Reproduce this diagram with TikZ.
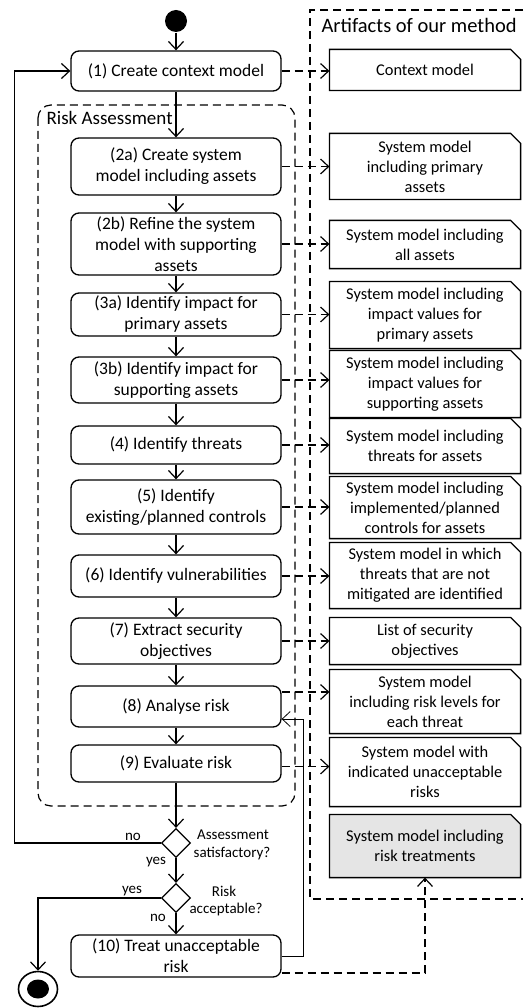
\documentclass[tikz,border=0pt]{standalone}
\usepackage{fontspec}
\setmainfont{Carlito}
\usetikzlibrary{arrows.meta,shapes.geometric,backgrounds,calc}
\newcommand\procfont{\fontsize{17.5pt}{21pt}\selectfont}
\newcommand\artfont{\fontsize{16.4pt}{20pt}\selectfont}
\newcommand\lblfont{\fontsize{15pt}{18pt}\selectfont}
\begin{document}
\begin{tikzpicture}[x=1pt,y=-1pt,
  >={Straight Barb[length=8pt,width=15pt]},
  line width=1.2pt,
  proc/.style={draw, line width=1.3pt, rounded corners=8pt, minimum width=210pt, inner sep=0pt, align=center, font=\procfont},
  art/.style={minimum width=190pt, inner sep=0pt, align=center, font=\artfont},
  flow/.style={->},
  dashline/.style={dash pattern=on 8pt off 5pt},
  dflow/.style={->, dash pattern=on 8pt off 5pt},
  dec/.style={draw, diamond, line width=1.3pt, minimum width=29pt, minimum height=29pt, inner sep=0pt},
  lbl/.style={font=\lblfont, inner sep=0pt},
  notefill/.style={fill=gray!20}
]
\useasboundingbox (0,0) rectangle (523,1008);

% containers
\draw[dashline] (523,10) -- (310,10) -- (310,899) -- (523,899);
\node[anchor=west, inner sep=0pt, font=\fontsize{20.5pt}{24pt}\selectfont] (arttitle) at (321,25) {Artifacts of our method};
\draw[dashline, rounded corners=13pt] (38,105) rectangle (295,806);
\node[anchor=west, inner sep=0pt, font=\fontsize{19pt}{22pt}\selectfont] (ratitle) at (46,118) {Risk Assessment};

% start / end
\node[circle, fill=black, minimum size=22pt, inner sep=0pt] (start) at (176,21) {};
\node[ellipse, draw, line width=1.6pt, minimum width=39pt, minimum height=35pt, inner sep=0pt] (endc) at (38,989) {};
\node[ellipse, fill=black, minimum width=22pt, minimum height=19pt, inner sep=0pt] (endin) at (38,989) {};

% process boxes
\node[proc, minimum height=40pt] (p1) at (176,71) {(1) Create context model};
\node[proc, minimum height=57pt] (p2a) at (176,166.5) {(2a) Create system\\model including assets};
\node[proc, minimum height=62pt] (p2b) at (176,244) {(2b) Refine the system\\model with supporting\\assets};
\node[proc, minimum height=43pt] (p3a) at (176,314.5) {(3a) Identify impact for\\primary assets};
\node[proc, minimum height=46pt] (p3b) at (176,380) {(3b) Identify impact for\\supporting assets};
\node[proc, minimum height=38pt] (p4) at (176,445) {(4) Identify threats};
\node[proc, minimum height=54pt] (p5) at (176,507) {(5) Identify\\existing/planned controls};
\node[proc, minimum height=42pt] (p6) at (176,576) {(6) Identify vulnerabilities};
\node[proc, minimum height=46pt] (p7) at (176,641) {(7) Extract security\\objectives};
\node[proc, minimum height=41pt] (p8) at (176,706.5) {(8) Analyse risk};
\node[proc, minimum height=37pt] (p9) at (176,763.5) {(9) Evaluate risk};
\node[proc, minimum height=42pt] (p10) at (176,956) {(10) Treat unacceptable\\risk};

% decisions
\node[dec] (d1) at (176,843) {};
\node[dec] (d2) at (176,898) {};

% artifact notes
\node[art, minimum height=40pt] (a1) at (425,70) {Context model};
\node[art, minimum height=65pt] (a2) at (425,166.5) {System model\\including primary\\assets};
\node[art, minimum height=47pt] (a3) at (425,244.5) {System model including\\all assets};
\node[art, minimum height=66pt] (a4) at (425,315) {System model including\\impact values for\\primary assets};
\node[art, minimum height=66pt] (a5) at (425,384) {System model including\\impact values for\\supporting assets};
\node[art, minimum height=54pt] (a6) at (425,446) {System model including\\threats for assets};
\node[art, minimum height=61pt] (a7) at (425,507.5) {System model including\\implemented/planned\\controls for assets};
\node[art, minimum height=65pt] (a8) at (425,575.5) {System model in which\\threats that are not\\mitigated are identified};
\node[art, minimum height=46pt] (a9) at (425,641) {List of security\\objectives};
\node[art, minimum height=63pt] (a10) at (425,701.5) {System model\\including risk levels for\\each threat};
\node[art, minimum height=68pt] (a11) at (425,772) {System model with\\indicated unacceptable\\risks};
\node[art, minimum height=62pt] (a12) at (425,846) {System model including\\risk treatments};

\begin{scope}[on background layer]
\fill[notefill] (a12.north west) -- ([xshift=-10pt]a12.north east) -- ([yshift=-10pt]a12.north east) -- (a12.south east) -- (a12.south west) -- cycle;
\end{scope}
\foreach \n in {a1,a2,a3,a4,a5,a6,a7,a8,a9,a10,a11,a12}{
  \draw[line width=1.3pt] (\n.north west) -- ([xshift=-10pt]\n.north east) -- ([yshift=-10pt]\n.north east) -- (\n.south east) -- (\n.south west) -- cycle;
}

% control flow
\draw[flow] (start) -- (p1);
\draw[flow] (p1) -- (p2a);
\draw[flow] (p2a) -- (p2b);
\draw[flow] (p2b) -- (p3a);
\draw[flow] (p3a) -- (p3b);
\draw[flow] (p3b) -- (p4);
\draw[flow] (p4) -- (p5);
\draw[flow] (p5) -- (p6);
\draw[flow] (p6) -- (p7);
\draw[flow] (p7) -- (p8);
\draw[flow] (p8) -- (p9);
\draw[flow] (p9) -- (d1);
\draw[flow] (d1) -- (d2);
\draw[flow] (d2) -- (p10);
\draw[flow] (d1.west) -- ++(-146,0) |- (p1.west);
\draw[flow] (d2.west) -| (endc.north);
\draw[->, line width=0.8pt] (p10.east) -- ++(22,0) |- ([yshift=-12.5pt]p8.east);

% artifact flows
\draw[dflow] (p1.east) -- (p1.east -| a1.west);
\draw[dflow] (p2a.east) -- (p2a.east -| a2.west);
\draw[dflow] (p2b.east) -- (p2b.east -| a3.west);
\draw[dflow] (p3a.east) -- (p3a.east -| a4.west);
\draw[dflow] (p3b.east) -- (p3b.east -| a5.west);
\draw[dflow] (p4.east) -- (p4.east -| a6.west);
\draw[dflow] (p5.east) -- (p5.east -| a7.west);
\draw[dflow] (p6.east) -- (p6.east -| a8.west);
\draw[dflow] (p7.east) -- (p7.east -| a9.west);
\draw[dflow] ([yshift=14.5pt]p8.east) -- ([yshift=14.5pt]p8.east -| a10.west);
\draw[dflow] ([yshift=-3pt]p9.east) -- ([yshift=-3pt]p9.east -| a11.west);
\draw[dflow] ([yshift=-17pt]p10.east) -| (a12.south);

% labels
\node[lbl] (lno1) at (133,837) {no};
\node[lbl] (lyes1) at (156,862) {yes};
\node[lbl] (lyes2) at (132,891) {yes};
\node[lbl] (lno2) at (158,918) {no};
\node[lbl] (q1a) at (233,835) {Assessment};
\node[lbl] (q1b) at (232,854) {satisfactory?};
\node[lbl] (q2a) at (224,891) {Risk};
\node[lbl] (q2b) at (226,909) {acceptable?};
\end{tikzpicture}
\end{document}
